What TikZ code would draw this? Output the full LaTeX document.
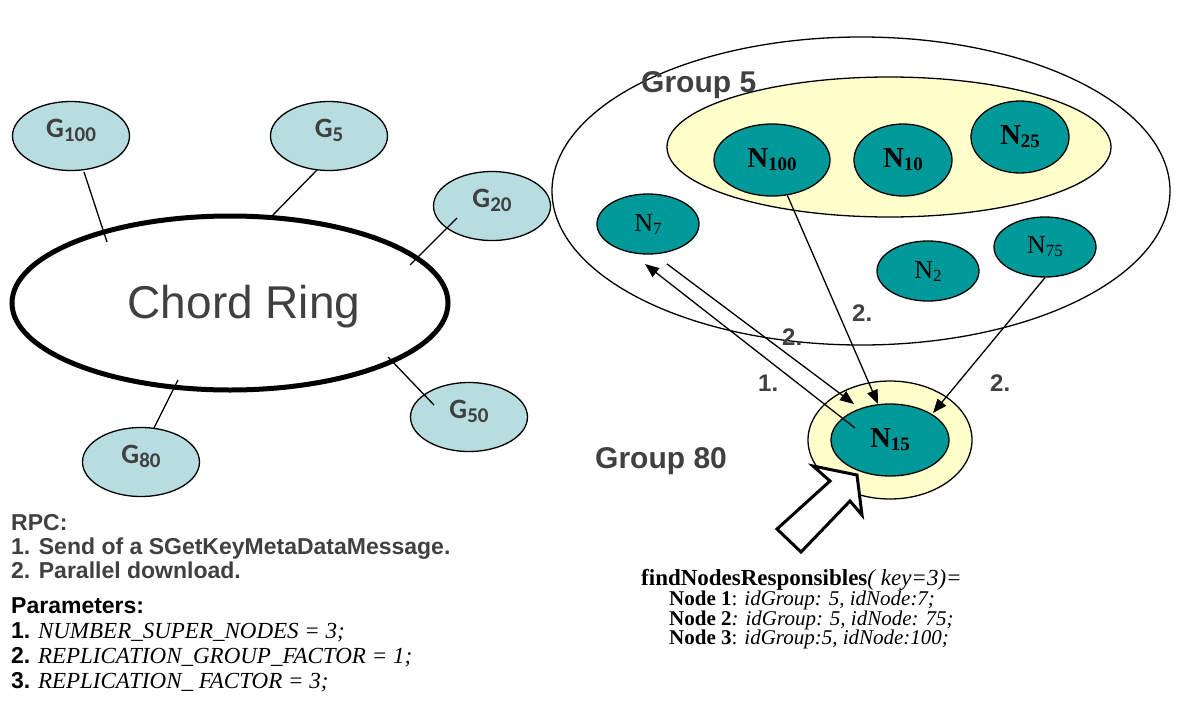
\documentclass[tikz,border=0pt]{standalone}
\usepackage{fontspec}
\setmainfont{Liberation Serif}
\newfontfamily\arialf{Liberation Sans}
\newfontfamily\calf{Carlito}
\usetikzlibrary{shapes.geometric,arrows.meta}
\definecolor{gfill}{HTML}{B7DDE0}
\definecolor{nfill}{HTML}{009999}
\definecolor{yfill}{HTML}{FFFFCC}
\definecolor{txtgray}{HTML}{404040}
% subscripts for group and node names
\newcommand\gsub[1]{\raisebox{-4pt}{\fontsize{21}{21}\selectfont #1}}
\newcommand\nsubb[1]{\raisebox{-3pt}{\fontsize{19}{19}\selectfont #1}}
\newcommand\nsubr[1]{\raisebox{-3pt}{\fontsize{17}{17}\selectfont #1}}

\begin{document}
\begin{tikzpicture}[x=1pt,y=-1pt,
  thin line/.style={line width=1.3pt},
  gnode/.style={ellipse,draw,thin line,fill=gfill,inner sep=0pt,
    minimum width=117pt,minimum height=69pt,text=txtgray,
    text height=18pt,text depth=16pt,
    font=\calf\bfseries\fontsize{28}{28}\selectfont},
  nbold/.style={ellipse,draw,thin line,fill=nfill,inner sep=0pt,
    minimum height=72pt,font=\bfseries\fontsize{29}{29}\selectfont},
  nreg/.style={ellipse,draw,thin line,fill=nfill,inner sep=0pt,
    minimum width=102pt,minimum height=60pt,font=\fontsize{26}{26}\selectfont},
  yellowgrp/.style={ellipse,draw,thin line,fill=yfill,inner sep=0pt},
  stepnum/.style={anchor=base west,inner sep=0pt,text=txtgray,
    font=\arialf\bfseries\fontsize{24}{24}\selectfont},
  grplabel/.style={anchor=base west,inner sep=0pt,text=txtgray,
    font=\arialf\bfseries\fontsize{30}{30}\selectfont},
  leftline/.style={anchor=base west,inner sep=0pt,
    font=\arialf\bfseries\fontsize{23}{23}\selectfont},
  paramline/.style={anchor=base west,inner sep=0pt,
    font=\fontsize{23}{23}\selectfont},
  callhead/.style={anchor=base west,inner sep=0pt,
    font=\fontsize{23}{23}\selectfont},
  callline/.style={anchor=base west,inner sep=0pt,
    font=\fontsize{21}{21}\selectfont},
  link/.style={thin line},
  msg/.style={thin line,-{Triangle[length=14pt,width=11pt]}},
]
\useasboundingbox (0,0) rectangle (1188,707);

% ---------- Chord ring with its groups ----------
\node[ellipse,draw,line width=5pt,inner sep=0pt,minimum width=436pt,
  minimum height=174pt] (ring) at (230,303) {};
\node[anchor=base,inner sep=0pt,text=txtgray,
  font=\arialf\fontsize{46}{46}\selectfont] (ringtxt) at (244,318) {Chord Ring};

\node[gnode] (g100) at (71,136) {G\gsub{100}};
\node[gnode] (g5)   at (329,136) {G\gsub{5}};
\node[gnode] (g20)  at (492,206) {G\gsub{20}};
\node[gnode] (g50)  at (469,417) {G\gsub{50}};
\node[gnode] (g80)  at (141,462) {G\gsub{80}};

\coordinate (l100a) at (84,172);  \coordinate (l100b) at (107,242);
\coordinate (l5a)   at (317,170); \coordinate (l5b)   at (270,218);
\coordinate (l20a)  at (457,218); \coordinate (l20b)  at (410,265);
\coordinate (l50a)  at (388,357); \coordinate (l50b)  at (434,405);
\coordinate (l80a)  at (178,380); \coordinate (l80b)  at (154,428);
\draw[link] (l100a) -- (l100b);
\draw[link] (l5a) -- (l5b);
\draw[link] (l20a) -- (l20b);
\draw[link] (l50a) -- (l50b);
\draw[link] (l80a) -- (l80b);

% ---------- Group 5 ----------
\node[ellipse,draw,thin line,inner sep=0pt,minimum width=618pt,
  minimum height=308pt] (grp5) at (861,191) {};
\node[grplabel] (grp5txt) at (641,92) {Group 5};
\node[yellowgrp,minimum width=444pt,minimum height=140pt] (super5) at (889,147) {};

\node[nbold,minimum width=116pt] (n100) at (772,160) {N\nsubb{100}};
\node[nbold,minimum width=98pt]  (n10)  at (903,160) {N\nsubb{10}};
\node[nbold,minimum width=98pt]  (n25)  at (1020,137) {N\nsubb{25}};
\node[nreg] (n7)  at (648,224) {N\nsubr{7}};
\node[nreg] (n2)  at (928,271) {N\nsubr{2}};
\node[nreg] (n75) at (1045,247) {N\nsubr{75}};

% ---------- Group 80 ----------
\node[grplabel] (grp80txt) at (595,468) {Group 80};
\node[yellowgrp,minimum width=164pt,minimum height=118pt] (super80) at (890,440) {};
\node[nbold,minimum width=118pt] (n15) at (890,440) {N\nsubb{15}};

% ---------- messages ----------
\coordinate (m1s) at (855,428); \coordinate (m1e) at (645,264);
\coordinate (m2s) at (667,264); \coordinate (m2e) at (854,404);
\coordinate (m3e) at (878,404);
\coordinate (m4e) at (933,413);
\draw[msg] (m1s) -- (m1e);
\draw[msg] (m2s) -- (m2e);
\draw[msg] (n100) -- (m3e);
\draw[msg] (n75.south) -- (m4e);

\node[stepnum] (s1)  at (758,391) {1.};
\node[stepnum] (s2a) at (852,321) {2.};
\node[stepnum] (s2b) at (782,345) {2.};
\node[stepnum] (s2c) at (990,391) {2.};

% ---------- call into N15 ----------
\draw[line width=3pt,fill=white,line join=miter]
  (777,529) -- (830,481) -- (813,466) -- (857,475) -- (862,515)
  -- (850,501) -- (801,552) -- cycle;

% ---------- legend ----------
\node[leftline,text=txtgray] (rpc)  at (11,530) {RPC:};
\node[leftline,text=txtgray] (rpc1) at (11,554) {1. Send of a SGetKeyMetaDataMessage.};
\node[leftline,text=txtgray] (rpc2) at (11,578) {2. Parallel download.};
\node[leftline] (par)  at (11,613) {Parameters:};
\node[paramline] (par1) at (11,638) {{\arialf\bfseries 1.} \textit{NUMBER\_SUPER\_NODES = 3;}};
\node[paramline] (par2) at (11,663) {{\arialf\bfseries 2.} \textit{REPLICATION\_GROUP\_FACTOR = 1;}};
\node[paramline] (par3) at (11,688) {{\arialf\bfseries 3.} \textit{REPLICATION\_ FACTOR = 3;}};

\node[callhead] (call)  at (641,585) {\textbf{findNodesResponsibles}\textit{( key=3)=}};
\node[callline] (call1) at (669,605) {\textbf{Node 1}: \textit{idGroup: 5, idNode:7;}};
\node[callline] (call2) at (669,625) {\textbf{Node 2}\textit{: idGroup: 5, idNode: 75;}};
\node[callline] (call3) at (669,644) {\textbf{Node 3}: \textit{idGroup:5, idNode:100;}};
\end{tikzpicture}
\end{document}
